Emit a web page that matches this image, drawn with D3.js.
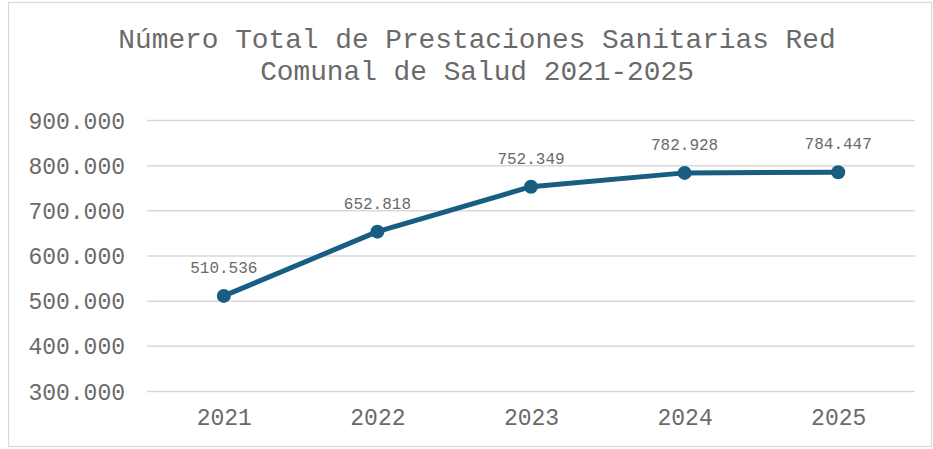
<!DOCTYPE html>
<html>
  <head>
    <meta charset="UTF-8" />
    <style>
      body { margin: 0; background: #ffffff; }
      text { font-family: "Liberation Mono", "DejaVu Sans Mono", monospace; }
    </style>
  </head>
  <body>
    <svg></svg>
    <script src="https://d3js.org/d3.v7.min.js"></script>
    <script>
      // chart data
      const years = ["2021", "2022", "2023", "2024", "2025"];
      const values = [510536, 652818, 752349, 782928, 784447];
      const yTicks = [300000, 400000, 500000, 600000, 700000, 800000, 900000];
      const titleLines = ["Número Total de Prestaciones Sanitarias Red", "Comunal de Salud 2021-2025"];

      let width = 933,
        height = 449;

      let svg = d3.select("svg").attr("width", width).attr("height", height);

      // outer frame
      svg.append("rect")
        .attr("x", 8.5).attr("y", 2.5)
        .attr("width", 923).attr("height", 444)
        .attr("fill", "#fff")
        .attr("stroke", "#d9d9d9")
        .attr("stroke-width", 1.2);

      let locale = d3.formatLocale({ decimal: ",", thousands: ".", grouping: [3], currency: ["", ""] });
      let fmt = locale.format(",.0f");

      let x = d3.scalePoint().domain(years).range([147, 915]).padding(0.5);
      let y = d3.scaleLinear().domain([300000, 900000]).range([391, 120]);

      // title
      svg.append("g")
        .selectAll("text")
        .data(titleLines)
        .join("text")
        .attr("x", 477)
        .attr("y", (d, i) => 48 + i * 32)
        .attr("text-anchor", "middle")
        .attr("font-size", 27.8)
        .attr("fill", "#6a6a6a")
        .text((d) => d);

      // gridlines + y labels
      let yAxis = d3.axisLeft(y).tickValues(yTicks).tickSize(-768).tickFormat(fmt).tickPadding(22);
      let yg = svg.append("g").attr("transform", "translate(147,0)").call(yAxis);
      yg.select(".domain").remove();
      yg.selectAll(".tick line").attr("stroke", "#d9d9d9").attr("stroke-width", 1.5);
      yg.selectAll(".tick text")
        .attr("fill", "#6a6a6a")
        .attr("font-size", 23)
        .attr("font-family", "Liberation Mono")
        .attr("dy", "0.35em");

      // x labels
      let xAxis = d3.axisBottom(x).tickSize(0).tickPadding(18);
      let xg = svg.append("g").attr("transform", "translate(0,391)").call(xAxis);
      xg.select(".domain").remove();
      xg.selectAll(".tick text")
        .attr("fill", "#6a6a6a")
        .attr("font-size", 23)
        .attr("font-family", "Liberation Mono");

      let pts = years.map((d, i) => ({ year: d, value: values[i] }));

      let line = d3.line().x((d) => x(d.year)).y((d) => y(d.value));

      svg.append("path")
        .datum(pts)
        .attr("d", line)
        .attr("fill", "none")
        .attr("stroke", "#175e82")
        .attr("stroke-width", 5)
        .attr("stroke-linejoin", "round");

      svg.append("g")
        .selectAll("circle")
        .data(pts)
        .join("circle")
        .attr("cx", (d) => x(d.year))
        .attr("cy", (d) => y(d.value))
        .attr("r", 7)
        .attr("fill", "#175e82");

      svg.append("g")
        .selectAll("text")
        .data(pts)
        .join("text")
        .attr("x", (d) => x(d.year))
        .attr("y", (d) => y(d.value) - 23)
        .attr("text-anchor", "middle")
        .attr("font-size", 16)
        .attr("fill", "#6a6a6a")
        .text((d) => fmt(d.value));
    </script>
  </body>
</html>
